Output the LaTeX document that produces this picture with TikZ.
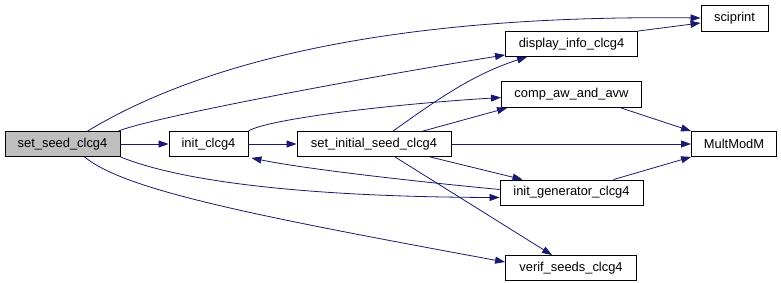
\documentclass[tikz,border=0pt]{standalone}
\usepackage{fontspec}
\setmainfont{Liberation Sans}
\usetikzlibrary{arrows.meta,calc}
\definecolor{edgeblue}{HTML}{191970}
\definecolor{nodegray}{HTML}{BFBFBF}
\begin{document}
\begin{tikzpicture}[x=1pt,y=-1pt,
  box/.style={draw=black,line width=0.9pt,fill=white,rectangle,inner sep=0pt,minimum height=25pt,font=\fontsize{12.9}{14}\selectfont},
  edge/.style={draw=edgeblue,line width=0.8pt,-{Triangle[length=10pt,width=7pt]}}]
\useasboundingbox (0,0) rectangle (781,283);
\node[box,fill=nodegray,minimum width=115pt] (setseed) at (62.5,144) {set\_seed\_clcg4};
\node[box,minimum width=79pt] (initc) at (208.5,144) {init\_clcg4};
\node[box,minimum width=154pt] (setinit) at (374,144) {set\_initial\_seed\_clcg4};
\node[box,minimum width=85pt] (mult) at (734,144) {MultModM};
\node[box,minimum width=143pt] (initgen) at (571.5,192.5) {init\_generator\_clcg4};
\node[box,minimum width=131pt] (verif) at (571,268) {verif\_seeds\_clcg4};
\node[box,minimum width=67pt,minimum height=26pt] (sciprint) at (734.5,18) {sciprint};
\node[box,minimum width=132pt] (display) at (571.5,44) {display\_info\_clcg4};
\node[box,minimum width=140pt,minimum height=26pt] (comp) at (571.5,94.5) {comp\_aw\_and\_avw};

\draw[edge] (setseed) -- (initc);
\draw[edge] (initc) -- (setinit);
\draw[edge] (setinit) -- (mult);
\draw[edge] ($(setseed.north west)+(83,0)$) .. controls (230,45) and (450,15) .. (sciprint.west);
\draw[edge] ($(setseed.north east)+(-2,0)$) .. controls (150,118) and (350,80) .. ($(display.south west)+(0,-2)$);
\draw[edge] (initc.north east) .. controls (265,120) and (380,105) .. ($(comp.west)+(0,3)$);
\draw[edge] ($(setinit.north)+(19,0)$) .. controls (430,105) and (470,75) .. ($(display.south west)+(22,0)$);
\draw[edge] ($(setinit.north)+(49,0)$) -- ($(comp.south west)+(6,0)$);
\draw[edge] ($(comp.south east)+(-21,0)$) -- (mult.north west);
\draw[edge] ($(setinit.south)+(56,0)$) -- ($(initgen.north west)+(23,0)$);
\draw[edge] ($(setinit.south)+(21,0)$) -- ($(verif.north)+(-19,0)$);
\draw[edge] ($(initgen.north east)+(-30,0)$) -- (mult.south west);
\draw[edge] ($(initgen.west)+(0,-3)$) .. controls (400,180) and (300,168) .. ($(initc.south east)+(3,1)$);
\draw[edge] (setseed.south east) .. controls (190,185) and (330,197) .. ($(initgen.west)+(0,5)$);
\draw[edge] ($(setseed.south)+(22,0)$) .. controls (125,190) and (250,215) .. ($(verif.west)+(0,-6)$);
\draw[edge] (display.north east) -- ($(sciprint.west)+(0,5)$);
\end{tikzpicture}
\end{document}
